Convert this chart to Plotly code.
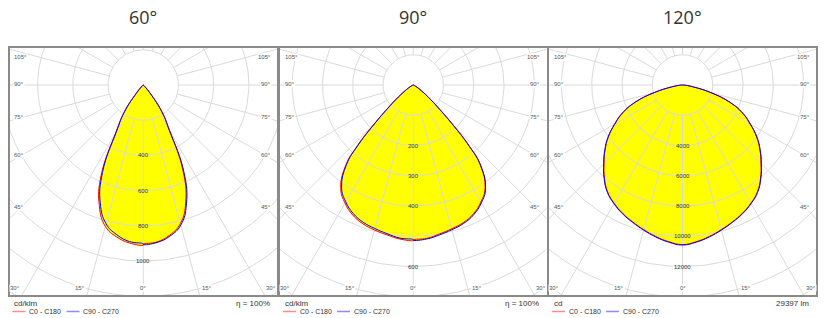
import numpy as np
import plotly.graph_objects as go

# ------------------------------------------------------------------ data
titles = ["60°", "90°", "120°"]
unit_labels = ["cd/klm", "cd/klm", "cd"]
info_labels = ["η = 100%", "η = 100%", "29397 lm"]
plane_names = ["C0 - C180", "C90 - C270"]

# 60° optic (cd/klm)
gamma_60 = [0, 5, 10, 15, 20, 25, 30, 35, 40, 45, 50, 60, 70, 80, 90]
c0_60 = [905, 895, 866, 815, 706, 532, 292, 178, 58, 15, 5, 1, 0, 0, 0]
c180_60 = [910, 901, 876, 832, 730, 566, 310, 190, 63, 17, 5, 1, 0, 0, 0]
c90_60 = [906, 898, 872, 824, 718, 548, 300, 184, 60, 16, 5, 1, 0, 0, 0]
c270_60 = [902, 893, 864, 816, 714, 548, 302, 186, 61, 16, 5, 1, 0, 0, 0]
ring_step_60 = 200
ring_labels_60 = [400, 600, 800, 1000]

# 90° optic (cd/klm)
gamma_90 = [0, 5, 10, 15, 20, 25, 30, 35, 40, 42.5, 45, 47.5, 50, 55, 60, 65, 70, 80, 90]
c0_90 = [512, 509, 500, 492, 484, 470, 447, 414, 344, 272, 181, 115, 76, 33, 13, 5, 2, 0, 0]
c180_90 = [514, 511, 503, 496, 488, 474, 451, 418, 348, 276, 184, 117, 77, 33, 13, 5, 2, 0, 0]
c90_90 = [513, 511, 503, 495, 487, 473, 450, 417, 347, 275, 183, 117, 77, 33, 13, 5, 2, 0, 0]
c270_90 = [511, 508, 499, 491, 483, 469, 446, 413, 343, 271, 180, 115, 75, 32, 13, 5, 2, 0, 0]
ring_step_90 = 100
ring_labels_90 = [200, 300, 400, 600]

# 120° optic (cd)
gamma_120 = [0, 5, 10, 15, 20, 25, 30, 35, 40, 45, 50, 55, 60, 65, 70, 75, 80, 85, 90]
c0_120 = [10550, 10400, 10170, 9900, 9630, 9360, 9030, 8630, 8030, 7340, 6680, 5980, 5160, 4360, 3310, 1920, 730, 200, 0]
c180_120 = [10550, 10400, 10170, 9900, 9630, 9360, 9030, 8630, 8030, 7340, 6680, 5980, 5160, 4360, 3310, 1920, 730, 200, 0]
c90_120 = [10580, 10430, 10200, 9930, 9660, 9390, 9060, 8660, 8060, 7370, 6710, 6010, 5190, 4390, 3340, 1940, 740, 205, 0]
c270_120 = [10580, 10430, 10200, 9930, 9660, 9390, 9060, 8660, 8060, 7370, 6710, 6010, 5190, 4390, 3340, 1940, 740, 205, 0]
ring_step_120 = 2000
ring_labels_120 = [4000, 6000, 8000, 10000, 12000]

side_angle_labels = [105, 90, 75, 60, 45]
bottom_angle_labels = [30, 15, 0]

panels = [
    dict(gamma=gamma_60, c0=c0_60, c180=c180_60, c90=c90_60, c270=c270_60,
         step=ring_step_60, rings=ring_labels_60),
    dict(gamma=gamma_90, c0=c0_90, c180=c180_90, c90=c90_90, c270=c270_90,
         step=ring_step_90, rings=ring_labels_90),
    dict(gamma=gamma_120, c0=c0_120, c180=c180_120, c90=c90_120, c270=c270_120,
         step=ring_step_120, rings=ring_labels_120),
]

# ------------------------------------------------------------------ layout geometry
W, H = 828, 318
BOX_X = [(9.5, 277.0), (280.0, 546.5), (549.0, 816.0)]
BOX_TOP, BOX_BOTTOM = 48.0, 295.0
CENTER_DROP = 37.0
PX_PER_STEP = [35.2, 30.25, 30.25]

GRID = "#dadada"
LABEL_FONT = "Liberation Sans, Arial, sans-serif"
SPLINE = dict(shape="spline", smoothing=1.3, simplify=False)


def px_x(v):
    return v / W


def px_y(v):
    return 1 - v / H


def curve_xy(gamma, right, left):
    g = np.radians(np.asarray(gamma, float))
    rr = np.asarray(right, float)
    rl = np.asarray(left, float)
    x = np.concatenate([(-rl * np.sin(g))[::-1], rr * np.sin(g)])
    y = np.concatenate([(-rl * np.cos(g))[::-1], -rr * np.cos(g)])
    keep = np.ones(len(x), bool)
    keep[1:] = (np.abs(np.diff(x)) + np.abs(np.diff(y))) > 1e-9
    return x[keep], y[keep]


fig = go.Figure()
annotations = []
shapes = []

for i, p in enumerate(panels):
    n = "" if i == 0 else str(i + 1)
    xa, ya = "x" + n, "y" + n
    x0, x1 = BOX_X[i]
    bw = x1 - x0
    bh = BOX_BOTTOM - BOX_TOP
    u = p["step"] / PX_PER_STEP[i]
    cx = (x0 + x1) / 2
    cy = BOX_TOP + CENTER_DROP

    fig.layout["xaxis" + n] = dict(
        domain=[px_x(x0), px_x(x1)], range=[-bw / 2 * u, bw / 2 * u],
        showgrid=False, zeroline=False, showticklabels=False, ticks="",
        showline=True, mirror=True, linecolor="#8a8a8a", linewidth=1.5,
        anchor=ya, fixedrange=True)
    fig.layout["yaxis" + n] = dict(
        domain=[px_y(BOX_BOTTOM), px_y(BOX_TOP)],
        range=[-(bh - CENTER_DROP) * u, CENTER_DROP * u],
        showgrid=False, zeroline=False, showticklabels=False, ticks="",
        showline=True, mirror=True, linecolor="#8a8a8a", linewidth=1.5,
        anchor=xa, fixedrange=True)

    # yellow fill for both planes
    xr, yr = curve_xy(p["gamma"], p["c0"], p["c180"])
    xb, yb = curve_xy(p["gamma"], p["c90"], p["c270"])
    for xx, yy in ((xr, yr), (xb, yb)):
        fig.add_trace(go.Scatter(x=xx, y=yy, mode="lines", fill="toself",
                                 fillcolor="#ffff00",
                                 line=dict(width=0, color="#ffff00", **SPLINE),
                                 hoverinfo="skip", showlegend=False,
                                 xaxis=xa, yaxis=ya))

    # polar grid
    rmax = np.hypot(bw / 2, bh - CENTER_DROP) * u * 1.05
    nr = int(rmax // p["step"]) + 1
    th = np.radians(np.arange(0, 362, 2))
    gx, gy = [], []
    for k in range(1, nr + 1):
        r = k * p["step"]
        gx += list(r * np.sin(th)) + [None]
        gy += list(-r * np.cos(th)) + [None]
    for a in range(0, 360, 15):
        ar = np.radians(a)
        gx += [p["step"] * np.sin(ar), rmax * np.sin(ar), None]
        gy += [-p["step"] * np.cos(ar), -rmax * np.cos(ar), None]
    fig.add_trace(go.Scatter(x=gx, y=gy, mode="lines",
                             line=dict(width=1, color=GRID),
                             hoverinfo="skip", showlegend=False,
                             xaxis=xa, yaxis=ya))

    # curves
    fig.add_trace(go.Scatter(x=xr, y=yr, mode="lines", name=plane_names[0],
                             line=dict(width=1, color="#ff0000", **SPLINE),
                             showlegend=False, xaxis=xa, yaxis=ya))
    fig.add_trace(go.Scatter(x=xb, y=yb, mode="lines", name=plane_names[1],
                             line=dict(width=1, color="#0000ff", **SPLINE),
                             showlegend=False, xaxis=xa, yaxis=ya))

    # ring value labels along 0°
    for v in p["rings"]:
        annotations.append(dict(x=0, y=-v, xref=xa, yref=ya, text=str(v),
                                showarrow=False, xanchor="center", yanchor="middle",
                                font=dict(size=6, color="#333", family=LABEL_FONT)))

    # angle labels on the sides (0° points straight down from the centre)
    for a in side_angle_labels:
        ar = np.radians(a)
        t = (cx - x0 - 10) / np.sin(ar)
        yy = cy + t * np.cos(ar)
        yy = max(yy - 1.5, BOX_TOP + 9)
        for side in (-1, 1):
            annotations.append(dict(
                x=px_x(x0 + 3.5) if side < 0 else px_x(x1 - 5.5), y=px_y(yy),
                xref="paper", yref="paper", text=f"{a}°", showarrow=False,
                xanchor="left" if side < 0 else "right", yanchor="middle",
                bgcolor="white", borderpad=0,
                font=dict(size=6, color="#555", family=LABEL_FONT)))
    # angle labels along the bottom
    for a in bottom_angle_labels:
        ar = np.radians(a)
        dx = (BOX_BOTTOM - cy) * np.tan(ar)
        sides = (0,) if a == 0 else (-1, 1)
        for side in sides:
            if side == 0:
                xx, anc = cx, "center"
            elif side < 0:
                xx, anc = cx - dx - 1, "right"
            else:
                xx, anc = cx + dx + 1, "left"
            annotations.append(dict(
                x=px_x(xx), y=px_y(BOX_BOTTOM - 7), xref="paper", yref="paper",
                text=f"{a}°", showarrow=False, xanchor=anc, yanchor="middle",
                bgcolor="white", borderpad=0,
                font=dict(size=6, color="#555", family=LABEL_FONT)))

    # title
    annotations.append(dict(x=px_x(cx), y=px_y(17), xref="paper", yref="paper",
                            text=titles[i], showarrow=False, xanchor="center",
                            yanchor="middle",
                            font=dict(size=18, color="#333", family="Open Sans")))
    # unit / info
    annotations.append(dict(x=px_x(x0 + 2.5), y=px_y(303.5), xref="paper", yref="paper",
                            text=unit_labels[i], showarrow=False, xanchor="left",
                            yanchor="middle",
                            font=dict(size=8, color="#333", family=LABEL_FONT)))
    annotations.append(dict(x=px_x(x1 - 5.5), y=px_y(303.5), xref="paper", yref="paper",
                            text=info_labels[i], showarrow=False, xanchor="right",
                            yanchor="middle",
                            font=dict(size=8, color="#333", family=LABEL_FONT)))
    # legend
    for j, (col, off) in enumerate((("#ff8c8c", 3), ("#8c8cff", 57))):
        shapes.append(dict(type="line", xref="paper", yref="paper",
                           x0=px_x(x0 + off), x1=px_x(x0 + off + 13),
                           y0=px_y(311.5), y1=px_y(311.5),
                           line=dict(color=col, width=1.5)))
        annotations.append(dict(x=px_x(x0 + off + 14.5), y=px_y(311.5),
                                xref="paper", yref="paper", text=plane_names[j],
                                showarrow=False, xanchor="left", yanchor="middle",
                                font=dict(size=7, color="#333", family=LABEL_FONT)))

fig.update_layout(width=W, height=H, margin=dict(l=0, r=0, t=0, b=0),
                  paper_bgcolor="white", plot_bgcolor="white",
                  annotations=annotations, shapes=shapes, showlegend=False)

fig.write_html("out.html")
